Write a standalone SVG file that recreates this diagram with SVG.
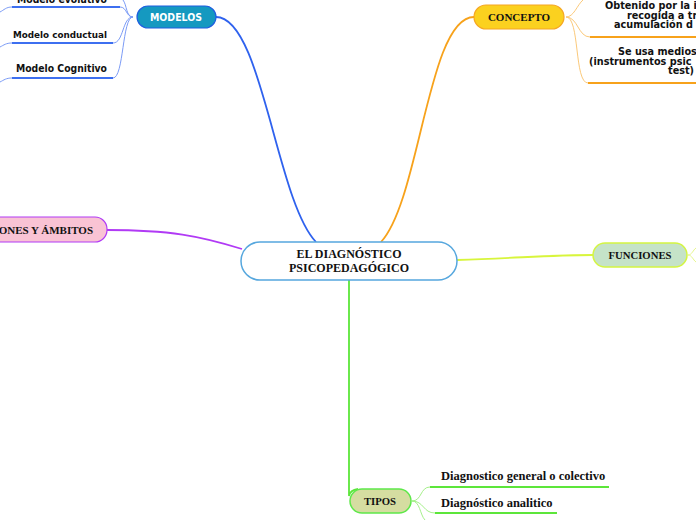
<svg xmlns="http://www.w3.org/2000/svg" width="696" height="520" viewBox="0 0 696 520">
<style>
.serif{font-family:"Liberation Serif","Times New Roman",serif;font-weight:bold;fill:#111}
.sans{font-family:"DejaVu Sans",Verdana,sans-serif;font-weight:bold;fill:#111}
.thin{fill:none;stroke-width:1}
.main{fill:none;stroke-width:1.8}
.ul{fill:none;stroke-width:2}
</style>
<rect width="696" height="520" fill="#fff"/>
<g id="connectors">
  <path class="main" d="M216,17 C262,17 276,200 316,242" stroke="#2f62ee"/>
  <path class="main" d="M381,242 C420,200 428,17 474,17" stroke="#f7a21b"/>
  <path class="main" d="M107,230 C170,230 200,236 242,249" stroke="#b13af5"/>
  <path class="main" d="M457,260 C520,258 550,255 593,255" stroke="#d8f53c"/>
  <path class="main" d="M349,280 L349,496 Q350,490 358,489" stroke="#5ce63a"/>
  <g stroke="#7b9bf6" class="thin">
    <path d="M133,17 C126,17 127,5 123,0"/>
    <path d="M133,17 C126,17 127,7 120,7"/>
    <path d="M133,17 C122,17 124,43 113,43"/>
    <path d="M133,17 C122,17 124,78 113,78"/>
    <path d="M12,7 C6,7 4,10 0,12"/>
    <path d="M12,43 C6,43 4,45 0,47"/>
    <path d="M12,78 C6,78 4,80 0,82"/>
  </g>
  <g stroke="#fbc97a" class="thin">
    <path d="M566,17 C574,17 577,5 583,0"/>
    <path d="M566,17 C578,17 578,37 590,37"/>
    <path d="M566,17 C580,17 574,83 588,83"/>
  </g>
  <g stroke="#a5f08a" class="thin">
    <path d="M412,501 C422,501 420,487 430,487"/>
    <path d="M412,501 C424,501 423,513 435,513"/>
    <path d="M412,501 C420,501 420,515 425,520"/>
  </g>
  <g stroke="#e6f78a" class="thin">
    <path d="M688,255 C692,255 693,250 696,248"/>
    <path d="M688,255 C692,255 693,260 696,262"/>
  </g>
</g>
<g id="central">
  <rect x="241" y="242" width="216" height="38" rx="19" fill="#fff" stroke="#56a7de" stroke-width="1.5"/>
  <text class="serif" font-size="12" x="349" y="258" text-anchor="middle">EL DIAGNÓSTICO</text>
  <text class="serif" font-size="12" x="349" y="272" text-anchor="middle">PSICOPEDAGÓGICO</text>
</g>
<g id="modelos">
  <rect x="137" y="6" width="79" height="22" rx="11" fill="#1599c0" stroke="#1e5fe0" stroke-width="1.2"/>
  <text x="176" y="20.5" text-anchor="middle" font-family="DejaVu Sans,Verdana,sans-serif" font-weight="bold" font-size="10" fill="#fff" textLength="52" lengthAdjust="spacingAndGlyphs">MODELOS</text>
</g>
<g id="modelo-evolutivo">
  <text class="sans" font-size="11" x="17" y="2.5" textLength="90" lengthAdjust="spacingAndGlyphs">Modelo evolutivo</text>
  <path class="ul" d="M12,7 L120,7" stroke="#3d6ff0"/>
</g>
<g id="modelo-conductual">
  <text class="sans" font-size="9" x="13" y="37.5" textLength="94" lengthAdjust="spacingAndGlyphs">Modelo conductual</text>
  <path class="ul" d="M12,43 L113,43" stroke="#3d6ff0"/>
</g>
<g id="modelo-cognitivo">
  <text class="sans" font-size="11" x="16" y="72" textLength="91" lengthAdjust="spacingAndGlyphs">Modelo Cognitivo</text>
  <path class="ul" d="M12,78 L113,78" stroke="#3d6ff0"/>
</g>
<g id="concepto">
  <rect x="474" y="5" width="90" height="24" rx="12" fill="#fbd11f" stroke="#f5a623" stroke-width="1.2"/>
  <text class="serif" font-size="11" x="519" y="21" text-anchor="middle">CONCEPTO</text>
</g>
<g id="concepto-obtenido">
  <text class="sans" font-size="9.7" x="605" y="8.5">Obtenido por la in</text>
  <text class="sans" font-size="9.7" x="627" y="18.5">recogida a tra</text>
  <text class="sans" font-size="9.7" x="614" y="28">acumulación d</text>
  <path class="ul" d="M590,37 L696,37" stroke="#f7a21b"/>
</g>
<g id="concepto-medios">
  <text class="sans" font-size="9.7" x="618" y="54.5">Se usa medios</text>
  <text class="sans" font-size="9.7" x="589" y="64.5">(instrumentos psic</text>
  <text class="sans" font-size="9.7" x="668" y="74">test)</text>
  <path class="ul" d="M588,83 L696,83" stroke="#f7a21b"/>
</g>
<g id="ambitos">
  <rect x="-20" y="217" width="127" height="25" rx="12" fill="#f9c3d4" stroke="#b13af5" stroke-width="1.2"/>
  <text class="serif" font-size="11" x="93" y="234" text-anchor="end">ONES Y ÁMBITOS</text>
</g>
<g id="funciones">
  <rect x="593" y="243" width="94" height="24" rx="12" fill="#c5e3c8" stroke="#d4f542" stroke-width="1.5"/>
  <text class="serif" font-size="10.7" x="640" y="258.5" text-anchor="middle">FUNCIONES</text>
</g>
<g id="tipos">
  <rect x="350" y="489" width="61" height="24" rx="12" fill="#d5dda1" stroke="#5ee84a" stroke-width="1.5"/>
  <text class="serif" font-size="10.7" x="380" y="504.5" text-anchor="middle">TIPOS</text>
</g>
<g id="tipo-general">
  <text class="serif" font-size="12.5" x="441" y="480">Diagnostico general o colectivo</text>
  <path class="ul" d="M430,487 L609,487" stroke="#5ce63a"/>
</g>
<g id="tipo-analitico">
  <text class="serif" font-size="12.5" x="441" y="507">Diagnóstico analitico</text>
  <path class="ul" d="M435,513 L557,513" stroke="#5ce63a"/>
</g>
</svg>
